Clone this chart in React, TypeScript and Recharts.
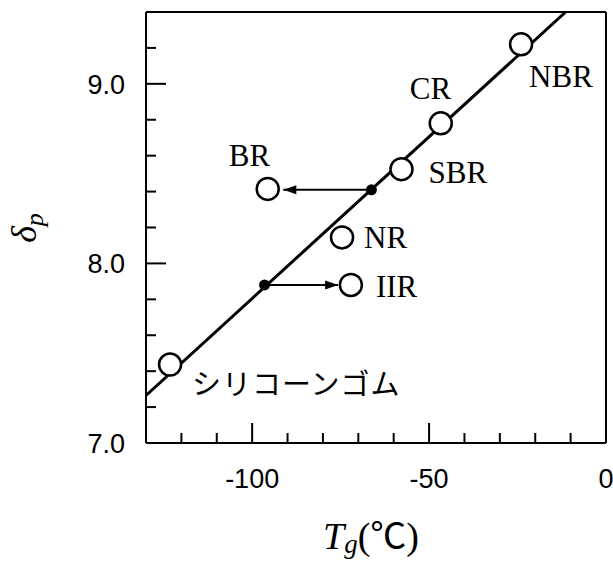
import React from 'react';
import { ComposedChart, Scatter, XAxis, YAxis, ReferenceLine } from 'recharts';

// ゴム種と Tg, δp の読み取り値
const rubberNames = ['NBR', 'CR', 'SBR', 'BR', 'NR', 'IIR', 'シリコーンゴム'];
const tgValues = [-24, -46.7, -57.8, -95.6, -74.6, -72.1, -123.2];
const dpValues = [9.22, 8.78, 8.525, 8.415, 8.145, 7.88, 7.437];

// 回帰直線の両端 (Tg, δp)
const fitTg = [-130, -11.4];
const fitDp = [7.265, 9.4];

// 矢印: 直線上の点 -> 実測点
const arrowFromTg = [-66.3, -96.5];
const arrowToTg = [-91.2, -75.7];
const arrowDp = [8.41, 7.88];

const xTicks = [-120, -110, -100, -90, -80, -70, -60, -50, -40, -30, -20, -10, 0];
const xLabels = [-100, -50, 0];
const yTicks = [7.0, 7.2, 7.4, 7.6, 7.8, 8.0, 8.2, 8.4, 8.6, 8.8, 9.0, 9.2];
const yLabels = [7.0, 8.0, 9.0];

const points = rubberNames.map((name, i) => ({ name, x: tgValues[i], y: dpValues[i] }));
const fitData = fitTg.map((x, i) => ({ x, y: fitDp[i] }));
const arrows = arrowFromTg.map((from, i) => [
  { x: from, y: arrowDp[i], kind: 'start' },
  { x: arrowToTg[i], y: arrowDp[i], kind: 'tip', dir: Math.sign(arrowToTg[i] - from) },
]);

// ラベル位置 (円の中心からのずれ, px)
const labelPos: Record<string, { dx: number; dy: number }> = {
  NBR: { dx: 8, dy: 43 },
  CR: { dx: -31, dy: -24 },
  SBR: { dx: 27, dy: 14 },
  BR: { dx: -39, dy: -23 },
  NR: { dx: 22, dy: 11 },
  IIR: { dx: 25, dy: 12 },
  'シリコーンゴム': { dx: 22, dy: 30 },
};

const SERIF = '"Liberation Serif", "Times New Roman", serif';
const SANS = '"Liberation Sans", Arial, sans-serif';

const near = (a: number, list: number[]) => list.some(v => Math.abs(v - a) < 1e-6);

function XTick({ x, y, payload }: any) {
  const major = near(payload.value, xLabels);
  return (
    <g>
      <line x1={x} x2={x} y1={y} y2={y - (major ? 20 : 10)} stroke="#000" strokeWidth={2} />
      {major && (
        <text x={x} y={y + 45} textAnchor="middle" fontSize={27} fontFamily={SANS} fill="#000">
          {payload.value}
        </text>
      )}
    </g>
  );
}

function YTick({ x, y, payload }: any) {
  const major = near(payload.value, yLabels);
  return (
    <g>
      <line x1={x} x2={x + (major ? 20 : 10)} y1={y} y2={y} stroke="#000" strokeWidth={2} />
      {major && (
        <text x={x - 21} y={y} dy="0.36em" textAnchor="end" fontSize={27} fontFamily={SANS} fill="#000">
          {payload.value.toFixed(1)}
        </text>
      )}
    </g>
  );
}

function RubberDot({ cx, cy, payload }: any) {
  const p = labelPos[payload.name];
  const jp = payload.name === 'シリコーンゴム';
  return (
    <g>
      <circle cx={cx} cy={cy} r={11} fill="#fff" stroke="#000" strokeWidth={2.5} />
      <text
        x={cx + p.dx}
        y={cy + p.dy}
        fontSize={jp ? 29 : 31}
        fontFamily={jp ? '"Noto Sans CJK JP", serif' : SERIF}
        letterSpacing={jp ? 1 : 0}
        fill="#000"
      >
        {payload.name}
      </text>
    </g>
  );
}

function ArrowEnd({ cx, cy, payload }: any) {
  if (payload.kind === 'start') {
    return <circle cx={cx} cy={cy} r={5.5} fill="#000" />;
  }
  const d = payload.dir;
  const len = 13;
  const w = 4.5;
  return <polygon points={`${cx},${cy} ${cx - d * len},${cy - w} ${cx - d * len},${cy + w}`} fill="#000" />;
}

export default function App() {
  return (
    <div style={{ position: 'absolute', left: 0, top: 0, background: '#fff' }}>
      <ComposedChart width={613} height={562} margin={{ top: 12, right: 7, bottom: 59, left: 86 }}>
        <XAxis
          type="number"
          dataKey="x"
          domain={[-130, 0]}
          ticks={xTicks}
          interval={0}
          allowDataOverflow
          height={60}
          tickSize={0}
          tickMargin={0}
          tick={<XTick />}
          axisLine={{ stroke: '#000', strokeWidth: 2 }}
          tickLine={false}
        />
        <YAxis
          type="number"
          dataKey="y"
          domain={[7.0, 9.4]}
          ticks={yTicks}
          interval={0}
          allowDataOverflow
          width={60}
          tickSize={0}
          tickMargin={0}
          tick={<YTick />}
          axisLine={{ stroke: '#000', strokeWidth: 2 }}
          tickLine={false}
        />
        <ReferenceLine y={9.4} stroke="#000" strokeWidth={2} />
        <ReferenceLine x={0} stroke="#000" strokeWidth={2} />
        <Scatter
          data={fitData}
          line={{ stroke: '#000', strokeWidth: 3 }}
          shape={() => <g />}
          isAnimationActive={false}
        />
        {arrows.map((a, i) => (
          <Scatter
            key={i}
            data={a}
            line={{ stroke: '#000', strokeWidth: 2 }}
            shape={<ArrowEnd />}
            isAnimationActive={false}
          />
        ))}
        <Scatter data={points} shape={<RubberDot />} isAnimationActive={false} />
      </ComposedChart>
      <svg width={613} height={562} style={{ position: 'absolute', left: 0, top: 0, pointerEvents: 'none' }}>
        <text transform="translate(36 228) rotate(-90)" textAnchor="middle" fontFamily={SERIF} fontSize={36} fontStyle="italic" fill="#000">
          δ<tspan fontSize={26} dy={7}>p</tspan>
        </text>
        <text x={323} y={549} fontFamily={SERIF} fontSize={38} fill="#000">
          <tspan fontStyle="italic">T</tspan>
          <tspan fontStyle="italic" fontSize={27} dy={4}>g</tspan>
          <tspan dy={-4}>(</tspan>
          <tspan fontFamily='"Noto Sans CJK JP", serif' fontSize={36}>℃</tspan>
          <tspan>)</tspan>
        </text>
      </svg>
    </div>
  );
}
